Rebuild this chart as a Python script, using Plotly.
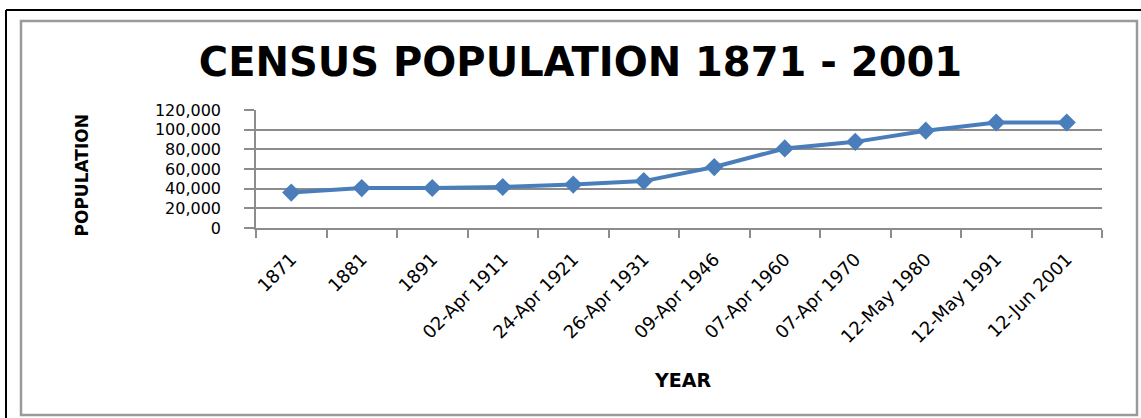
import plotly.graph_objects as go

# census dates (category labels) and population
years = ["1871", "1881", "1891", "02-Apr 1911", "24-Apr 1921", "26-Apr 1931",
         "09-Apr 1946", "07-Apr 1960", "07-Apr 1970", "12-May 1980",
         "12-May 1991", "12-Jun 2001"]
population = [36000, 40600, 40700, 41700, 44200, 47700,
              62000, 80900, 87600, 99000, 107300, 107300]

y_ticks = [0, 20000, 40000, 60000, 80000, 100000, 120000]

W, H = 1141, 418
L, R, T, B = 256, 1102, 110, 228   # plot area in pixels


def px(x):
    return (x - L) / (R - L)


def py(y):
    return (B - y) / (B - T)


fig = go.Figure()
fig.add_trace(
    go.Scatter(
        x=years,
        y=population,
        mode="lines+markers",
        line=dict(color="#4a7ebb", width=4),
        marker=dict(symbol="diamond", size=14, color="#4a7ebb"),
        showlegend=False,
    )
)

axis_font = dict(family="DejaVu Sans", size=18, color="#000000")

fig.update_layout(
    width=W,
    height=H,
    margin=dict(l=L, r=W - R, t=T, b=H - B),
    paper_bgcolor="white",
    plot_bgcolor="white",
    title=dict(
        text="<b>CENSUS POPULATION 1871 - 2001</b>",
        x=(183 + 978) / 2 / W,
        xanchor="center",
        y=1 - 62 / H,
        yanchor="middle",
        font=dict(family="DejaVu Sans", size=40, color="#000000"),
    ),
    xaxis=dict(
        type="category",
        range=[-0.5, len(years) - 0.5],
        tickson="boundaries",
        ticks="outside",
        ticklen=8,
        tickwidth=1.5,
        tickcolor="#8c8c8c",
        showline=True,
        linecolor="#8c8c8c",
        linewidth=1.5,
        showgrid=False,
        tickangle=-45,
        tickfont=axis_font,
        ticklabelstandoff=12,
    ),
    yaxis=dict(
        range=[0, 120000],
        tickvals=y_ticks,
        tickformat=",",
        ticks="outside",
        ticklen=10,
        tickwidth=1.5,
        tickcolor="#8c8c8c",
        showline=True,
        linecolor="#8c8c8c",
        linewidth=1.5,
        showgrid=True,
        gridcolor="#8c8c8c",
        gridwidth=1.5,
        zeroline=False,
        tickfont=dict(family="DejaVu Sans", size=16, color="#000000"),
        ticklabelstandoff=20,
    ),
)

# axis titles
fig.add_annotation(
    text="<b>POPULATION</b>", textangle=-90,
    xref="paper", yref="paper", x=px(81), y=py(175.5),
    xanchor="center", yanchor="middle", showarrow=False,
    font=dict(family="DejaVu Sans", size=17, color="#000000"),
)
fig.add_annotation(
    text="<b>YEAR</b>",
    xref="paper", yref="paper", x=px(682), y=py(380),
    xanchor="center", yanchor="middle", showarrow=False,
    font=dict(family="DejaVu Sans", size=19, color="#000000"),
)

# chart frames: outer black, inner gray
fig.add_shape(type="line", xref="paper", yref="paper",
              x0=px(6), y0=py(10), x1=px(1145), y1=py(10),
              line=dict(color="#000000", width=2))
fig.add_shape(type="line", xref="paper", yref="paper",
              x0=px(6), y0=py(10), x1=px(6), y1=py(425),
              line=dict(color="#000000", width=2))
fig.add_shape(type="rect", xref="paper", yref="paper",
              x0=px(21), y0=py(21), x1=px(1137), y1=py(415),
              line=dict(color="#9a9a9a", width=2.5), layer="below")

# drop the default page margin so the figure sits at the window corner
fig.write_html("out.html", config={"displayModeBar": False},
               post_script="document.body.style.margin='0';")
